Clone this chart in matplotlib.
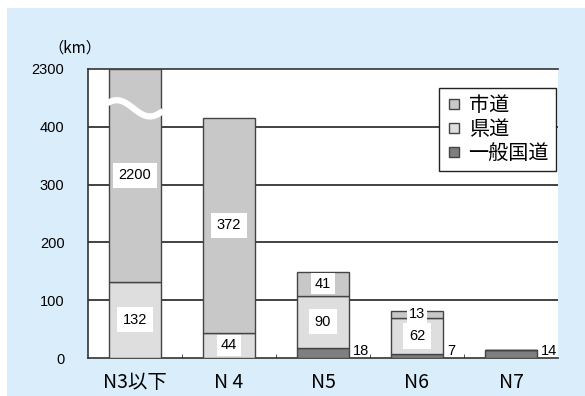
import matplotlib.pyplot as plt
import numpy as np
from matplotlib.patches import Rectangle
from matplotlib.lines import Line2D

plt.rcParams['font.family'] = ['Liberation Sans', 'Noto Sans CJK JP', 'DejaVu Sans']

# data (km)
cats = ['N3以下', 'N 4', 'N5', 'N6', 'N7']
kokudo = [0, 0, 18, 7, 14]      # 一般国道
kendo = [132, 44, 90, 62, 0]    # 県道
shido = [2200, 372, 41, 13, 0]  # 市道

ytick_vals = [0, 100, 200, 300, 400, 500]
ytick_labels = ['0', '100', '200', '300', '400', '2300']
ytop = 500  # axis is broken: 2300 shown at the 500 position

c_shi = '#c8c8c8'
c_ken = '#dedede'
c_koku = '#7f7f7f'
edge = '#444444'

fig = plt.figure(figsize=(5.85, 3.96), dpi=100)
fig.patches.append(Rectangle((7/585, 0), 1 - 7/585, 388/396, transform=fig.transFigure,
                             facecolor='#daedfa', edgecolor='none', zorder=-10))
ax = fig.add_axes([88/585, 38/396, 470/585, 289/396])
ax.set_facecolor('white')

x = np.arange(len(cats))
w = 0.56
b1 = np.array(kokudo, float)
b2 = b1 + np.array(kendo, float)
top_shi = np.minimum(b2 + np.array(shido, float), ytop)

ax.bar(x, b1, w, color=c_koku, edgecolor=edge, lw=1, zorder=3)
ax.bar(x, np.array(kendo, float), w, bottom=b1, color=c_ken, edgecolor=edge, lw=1, zorder=3)
ax.bar(x, top_shi - b2, w, bottom=b2, color=c_shi, edgecolor=edge, lw=1, zorder=3)


def lbl(xx, yy, seg, val):
    pad = 4 if seg > 60 else (2.5 if seg > 30 else 1.5)
    ax.text(xx, yy, str(val), ha='center', va='center', fontsize=10.5,
            bbox=dict(facecolor='white', edgecolor='none', pad=pad), zorder=5)


for i in range(len(cats)):
    if kendo[i] > 20:
        lbl(x[i], b1[i] + kendo[i] / 2, kendo[i], kendo[i])
    if shido[i] > 0:
        lbl(x[i], (b2[i] + top_shi[i]) / 2, top_shi[i] - b2[i], shido[i])
    if kokudo[i] > 0:
        ax.text(x[i] + w / 2 + 0.04, 0, str(kokudo[i]), ha='left', va='bottom',
                fontsize=10.5, zorder=5)

# break mark on first bar
t = np.linspace(0, 1, 60)
wx = x[0] - w / 2 - 0.02 + t * (w + 0.04)
wy = 432 + 14 * np.sin(2 * np.pi * (t * 0.85 + 0.1))
ax.plot(wx, wy, color='white', lw=4.5, solid_capstyle='butt', zorder=4)

ax.set_xlim(-0.5, len(cats) - 0.5)
ax.set_ylim(0, ytop)
ax.set_yticks(ytick_vals)
ax.set_yticklabels(ytick_labels, fontsize=10.5)
ax.set_xticks(x)
ax.set_xticklabels(cats, fontsize=14, family=['Noto Sans CJK JP'])
ax.set_xticks(x[:-1] + 0.5, minor=True)
ax.tick_params(axis='x', which='major', length=0, pad=10)
ax.tick_params(axis='x', which='minor', length=3, direction='in', color='#333333')
ax.tick_params(axis='y', length=0, pad=17)
for yv in [100, 200, 300, 400]:
    ax.axhline(yv, color='#222222', lw=1.2, zorder=1)
for s in ['left', 'bottom', 'top']:
    ax.spines[s].set_color('#333333')
    ax.spines[s].set_linewidth(1.2)
ax.spines['right'].set_visible(False)

fig.text(75/585, 1 - 48/396, '（km）', ha='center', va='center', fontsize=11,
         family=['Noto Sans CJK JP'])

handles = [Line2D([], [], ls='none', marker='s', ms=7, mfc=c, mec=edge, mew=1)
           for c in [c_shi, c_ken, c_koku]]
leg = ax.legend(handles, ['市道', '県道', '一般国道'], loc='upper right',
                bbox_to_anchor=(0.996, 0.934), borderaxespad=0,
                prop={'family': 'Noto Sans CJK JP', 'size': 14.5},
                handlelength=0.8, handletextpad=0.3, labelspacing=0.15,
                borderpad=0.35, fancybox=False, framealpha=1, edgecolor='#222222')
leg.set_zorder(6)

fig.savefig('out.png', dpi=100)
